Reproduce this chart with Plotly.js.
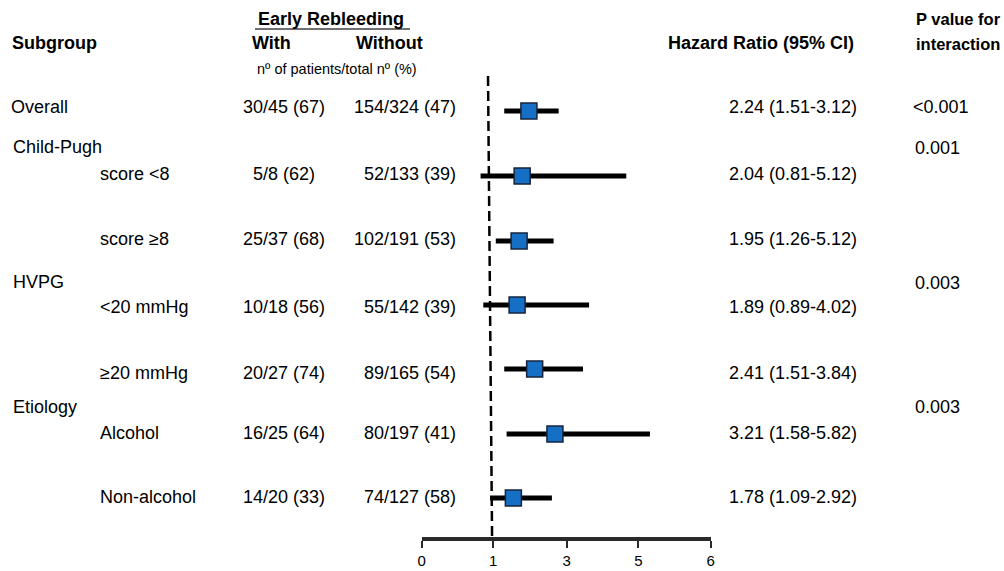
<!DOCTYPE html>
<html>
<head>
<meta charset="utf-8">
<script src="https://cdn.plot.ly/plotly-3.0.1.min.js"></script>
<style>
  html, body { margin: 0; padding: 0; background: #fff; }
  #chart { width: 1004px; height: 571px; }
</style>
</head>
<body>
<div id="chart"></div>
<script>
// ---------- data ----------
const subgroups = ['Overall', 'score <8', 'score ≥8', '<20 mmHg', '≥20 mmHg', 'Alcohol', 'Non-alcohol'];
const groupHeaders = ['Child-Pugh', 'HVPG', 'Etiology'];
const withRebleeding = ['30/45 (67)', '5/8 (62)', '25/37 (68)', '10/18 (56)', '20/27 (74)', '16/25 (64)', '14/20 (33)'];
const withoutRebleeding = ['154/324 (47)', '52/133 (39)', '102/191 (53)', '55/142 (39)', '89/165 (54)', '80/197 (41)', '74/127 (58)'];
const hrLabels = ['2.24 (1.51-3.12)', '2.04 (0.81-5.12)', '1.95 (1.26-5.12)', '1.89 (0.89-4.02)', '2.41 (1.51-3.84)', '3.21 (1.58-5.82)', '1.78 (1.09-2.92)'];
// hazard ratios and CI ends as drawn in the picture
const hazardRatio = [2.24, 2.04, 1.95, 1.89, 2.41, 3.01, 1.78];
const ciLow = [1.51, 0.81, 1.26, 0.89, 1.51, 1.58, 1.09];
const ciHigh = [3.12, 5.12, 2.97, 4.02, 3.84, 5.82, 2.92];
const pInteraction = ['<0.001', '0.001', '0.003', '0.003'];
const tickLabels = ['0', '1', '3', '5', '6'];

// ---------- layout positions ----------
const W = 1004;
const FONT = 'Liberation Sans, Arial, sans-serif';
const AXIS_Y = 537;
const rowY = [111, 176, 241, 305, 369, 434, 498];     // marker rows
const textY = [107, 174, 239, 307, 373, 433, 497];    // table text rows
const groupY = [147, 282, 407];
const pY = [107, 148, 283, 407];
const tickPos = [-0.932, 1.186, 3.358, 5.476, 7.618];

const px = v => v / W;
const ann = [];
function txt(text, xPix, y, anchor, size, bold) {
  ann.push({
    text: bold ? '<b>' + text + '</b>' : text,
    xref: 'paper', yref: 'y', x: px(xPix), y: y,
    xanchor: anchor, yanchor: 'middle', showarrow: false,
    font: { family: FONT, size: size, color: '#000' }
  });
}

// headers
txt('Subgroup', 10, 43, 'left', 18, true);
txt('Early Rebleeding', 331, 19, 'center', 18, true);
txt('With', 271, 43, 'center', 18, true);
txt('Without', 389, 43, 'center', 18, true);
txt('nº of patients/total nº (%)', 337, 69, 'center', 14.5, false);
txt('Hazard Ratio (95% CI)', 761, 43, 'center', 18, true);
txt('P value for', 914, 19, 'left', 16.5, true);
txt('interaction', 914, 44, 'left', 16.5, true);

subgroups.forEach((s, i) => {
  txt(s, i === 0 ? 9 : 98, textY[i], 'left', 18, false);
  txt(withRebleeding[i], 284, textY[i], 'center', 18, false);
  txt(withoutRebleeding[i], 458, textY[i], 'right', 18, false);
  txt(hrLabels[i], 727, textY[i], 'left', 18, false);
});
groupHeaders.forEach((g, i) => txt(g, 11, groupY[i], 'left', 18, false));
pInteraction.forEach((p, i) => txt(p, p.startsWith('<') ? 911 : 913, pY[i], 'left', 18, false));

const traces = [];
// CI lines
subgroups.forEach((s, i) => {
  traces.push({
    type: 'scatter', mode: 'lines',
    x: [ciLow[i], ciHigh[i]], y: [rowY[i], rowY[i]],
    line: { color: '#000', width: 5 },
    hoverinfo: 'skip', showlegend: false
  });
});
// HR markers
traces.push({
  type: 'scatter', mode: 'markers',
  x: hazardRatio, y: rowY,
  marker: { symbol: 'square', size: 16, color: '#1570c5', line: { color: '#16233c', width: 1.5 } },
  showlegend: false
});

const layout = {
  width: 1004, height: 571,
  margin: { l: 0, r: 0, t: 0, b: 0 },
  paper_bgcolor: '#fff', plot_bgcolor: 'rgba(0,0,0,0)',
  showlegend: false,
  xaxis: {
    domain: [421.7 / W, 710.7 / W],
    range: [tickPos[0], tickPos[4]],
    tickmode: 'array', tickvals: tickPos, ticktext: tickLabels,
    showgrid: false, zeroline: false,
    showline: true, linecolor: '#2a2a2a', linewidth: 4,
    ticks: 'outside', ticklen: 7, tickwidth: 2, tickcolor: '#2a2a2a',
    tickfont: { family: FONT, size: 15, color: '#000' }
  },
  yaxis: {
    domain: [(571 - AXIS_Y) / 571, 1],
    range: [AXIS_Y, 0],
    visible: false, showgrid: false, zeroline: false
  },
  shapes: [
    { type: 'line', xref: 'x', yref: 'y', x0: 1.03, x1: 1.15, y0: 76, y1: AXIS_Y,
      line: { color: '#000', width: 2.5, dash: '10px,5px' } },
    { type: 'line', xref: 'paper', yref: 'y', x0: px(255), x1: px(410), y0: 29, y1: 29,
      line: { color: '#707070', width: 2 } }
  ],
  annotations: ann
};

Plotly.newPlot('chart', traces, layout, { displayModeBar: false, staticPlot: true });
</script>
</body>
</html>
